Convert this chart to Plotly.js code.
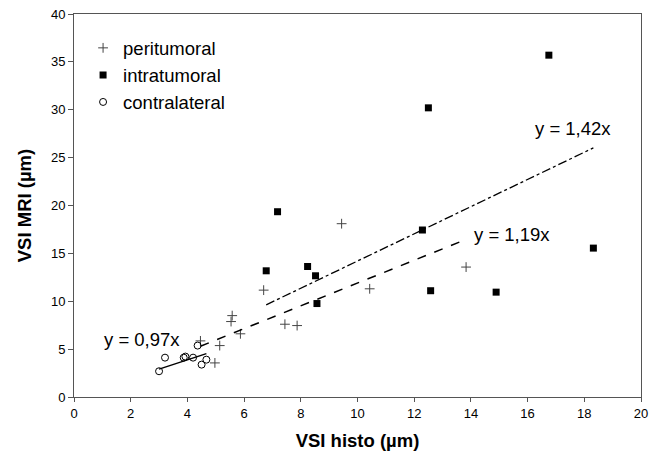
<!DOCTYPE html>
<html>
<head>
<meta charset="utf-8">
<script src="https://cdn.plot.ly/plotly-3.0.1.min.js"></script>
<style>html,body{margin:0;padding:0;background:#fff;}</style>
</head>
<body>
<div id="chart" style="width:654px;height:452px;"></div>
<script>
// Peritumoral
const periX = [4.46, 4.97, 5.14, 5.54, 5.58, 5.87, 6.69, 7.44, 7.87, 9.44, 10.43, 13.83];
const periY = [5.86, 3.56, 5.37, 7.88, 8.50, 6.60, 11.16, 7.60, 7.46, 18.10, 11.30, 13.57];
// Intratumoral
const intraX = [6.78, 7.18, 8.24, 8.52, 8.57, 12.29, 12.50, 12.58, 14.89, 16.75, 18.32];
const intraY = [13.18, 19.35, 13.63, 12.66, 9.76, 17.44, 30.20, 11.10, 10.95, 35.70, 15.55];
// Contralateral
const contraX = [3.00, 3.21, 3.87, 3.93, 4.20, 4.36, 4.50, 4.67];
const contraY = [2.69, 4.11, 4.11, 4.22, 4.11, 5.37, 3.38, 3.90];
// Regression slopes (through origin)
const slopeContra = 0.97;
const slopePeri = 1.19;
const slopeIntra = 1.42;
const eqLabels = ["y = 0,97x", "y = 1,19x", "y = 1,42x"];
const names = ["peritumoral", "intratumoral", "contralateral"];

const FONT = "Liberation Sans, Arial, sans-serif";

function fitLine(xs, slope) {
  const x0 = Math.min(...xs), x1 = Math.max(...xs);
  return {x: [x0, x1], y: [slope * x0, slope * x1]};
}
const lc = fitLine(contraX, slopeContra);
const lp = fitLine(periX, slopePeri);
const li = fitLine(intraX, slopeIntra);

const traces = [
  {x: periX, y: periY, mode: "markers", type: "scatter", name: names[0], legendgroup: "a",
   marker: {symbol: "cross-thin", size: 7, line: {width: 1, color: "#444"}, color: "#444"}},
  {x: intraX, y: intraY, mode: "markers", type: "scatter", name: names[1], legendgroup: "b",
   marker: {symbol: "square", size: 7, color: "#000"}},
  {x: contraX, y: contraY, mode: "markers", type: "scatter", name: names[2], legendgroup: "c",
   marker: {symbol: "circle-open", size: 7, line: {width: 1, color: "#000"}, color: "#000"}},
  {x: lc.x, y: lc.y, mode: "lines", type: "scatter", showlegend: false, hoverinfo: "skip",
   line: {color: "#000", width: 1.5}},
  {x: lp.x, y: lp.y, mode: "lines", type: "scatter", showlegend: false, hoverinfo: "skip",
   line: {color: "#000", width: 1.5, dash: "dash"}},
  {x: li.x, y: li.y, mode: "lines", type: "scatter", showlegend: false, hoverinfo: "skip",
   line: {color: "#000", width: 1.3, dash: "dashdot"}}
];

const layout = {
  width: 654, height: 452,
  margin: {l: 74, r: 13, t: 14, b: 55},
  paper_bgcolor: "#fff", plot_bgcolor: "#fff",
  font: {family: FONT, color: "#000", size: 13},
  showlegend: true,
  legend: {x: 0.016, y: 0.96, xanchor: "left", yanchor: "top", bgcolor: "rgba(0,0,0,0)",
           font: {size: 18.5, family: FONT}, tracegroupgap: 0, itemwidth: 30},
  xaxis: {range: [0, 20], dtick: 2, tick0: 0, showgrid: false, zeroline: false,
          showline: true, linecolor: "#555", linewidth: 1, mirror: true,
          ticks: "outside", ticklen: 4, tickcolor: "#555",
          tickfont: {size: 13, family: FONT},
          title: {text: "<b>VSI histo (µm)</b>", font: {size: 18.5, family: FONT}, standoff: 14}},
  yaxis: {range: [0, 40], dtick: 5, tick0: 0, showgrid: false, zeroline: false,
          showline: true, linecolor: "#555", linewidth: 1, mirror: true,
          ticks: "outside", ticklen: 5, tickcolor: "#555",
          tickfont: {size: 13, family: FONT},
          title: {text: "<b>VSI MRI (µm)</b>", font: {size: 18.5, family: FONT}, standoff: 14}},
  annotations: [
    {x: 2.39, y: 6.03, xref: "x", yref: "y", text: eqLabels[0], showarrow: false, font: {size: 18.5, family: FONT}},
    {x: 15.44, y: 16.95, xref: "x", yref: "y", text: eqLabels[1], showarrow: false, font: {size: 18.5, family: FONT}},
    {x: 17.59, y: 28.07, xref: "x", yref: "y", text: eqLabels[2], showarrow: false, font: {size: 18.5, family: FONT}}
  ]
};

Plotly.newPlot("chart", traces, layout, {displayModeBar: false, staticPlot: true});
</script>
</body>
</html>
